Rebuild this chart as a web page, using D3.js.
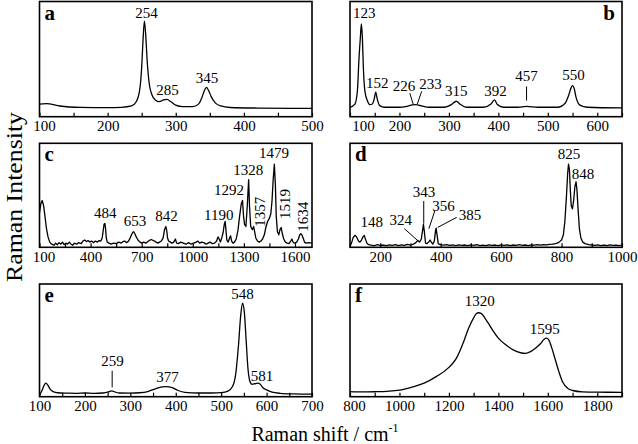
<!DOCTYPE html>
<html><head><meta charset="utf-8">
<script src="https://cdn.jsdelivr.net/npm/d3@7/dist/d3.min.js"></script>
<style>
body{margin:0;background:#fff}
svg{display:block}
text{font-family:"Liberation Serif","Times New Roman",Times,"DejaVu Serif",serif;fill:#000}
</style>
</head><body>
<svg id="chart" width="638" height="444"></svg>
<script>
// ---------- spectra (x = Raman shift, y = relative intensity 0..100 of panel height) ----------
const specA = [[100,11],[110,11.3],[130,9.3],[160,8.1],[200,7.8],[220,8.1],[235,9.3],[242,13],[247,23],[250,43],[252,67],[254,83],[256,70],[258,49],[261,29],[265,19],[270,14.5],[276,13],[282,14.5],[287,15],[293,13],[300,10],[310,8.7],[325,8.7],[333,10.7],[338,16],[342,22.6],[345,25.5],[348,23],[352,17.4],[358,12],[366,9.3],[380,8],[420,7.5],[500,7.2]];

const specB = [[100,8.2],[110,11],[115,22.7],[118,49],[121,69],[123,80.5],[125,69],[127,43],[130,22.7],[135,14],[140,10.5],[145,11],[149,15.5],[152,21.3],[155,15.5],[160,9.6],[170,8.2],[200,8.2],[215,9],[226,10.2],[233,10.5],[245,9.3],[260,8.2],[290,8.2],[305,10.5],[315,13.4],[322,11],[335,8.2],[370,8.2],[385,11],[392,14.6],[398,10.5],[410,8.2],[440,8.2],[457,8.9],[480,8.2],[520,8.2],[535,11.7],[542,18.4],[547,25],[550,27],[553,25],[557,17],[565,10],[580,8.2],[650,7.6]];

const specC = [[100,33],[108,42],[116,45],[124,40],[132,30],[140,19],[150,10],[160,5],[172,3],[185,2],[195,4],[205,2.5],[215,4.5],[225,3],[235,5],[245,2.5],[255,4],[265,3],[275,5],[285,3],[295,2],[305,4],[318,3],[330,4.5],[345,3.5],[355,6],[365,7],[375,5.5],[385,6.5],[395,5],[405,6],[418,4.5],[428,6],[440,5],[450,6.5],[460,6],[468,9],[474,16],[479,22],[484,23],[488,18],[492,9],[498,5],[508,4],[520,3],[535,4],[550,3.5],[565,5],[580,4],[590,5.5],[600,6],[610,4.5],[620,5.5],[630,8],[640,12],[648,14.5],[653,15],[660,13],[668,10],[678,7],[690,5],[700,4],[712,5],[725,4],[740,6],[755,7.5],[770,6.5],[785,5],[795,4],[805,5],[815,6],[826,9],[834,17],[842,20],[847,16],[852,9],[858,6],[868,5],[878,4],[888,5],[898,8],[905,4],[915,3.5],[930,5],[945,4],[960,3],[975,4.5],[990,3],[1005,4],[1020,5],[1030,6],[1040,4],[1052,5],[1065,4.5],[1078,3],[1090,4],[1102,5],[1115,3.5],[1128,4],[1140,6],[1148,10],[1155,8],[1162,5],[1170,9],[1178,14],[1185,22],[1190,25],[1194,18],[1200,7],[1208,5],[1216,9],[1222,11],[1228,6],[1236,4],[1245,5],[1255,8],[1265,16],[1275,30],[1285,42],[1292,45],[1298,30],[1304,22],[1312,20],[1320,40],[1328,65],[1333,40],[1340,20],[1350,17],[1357,20],[1362,16],[1370,9],[1380,6],[1390,5],[1400,6],[1410,8],[1420,12],[1430,20],[1440,25],[1450,28],[1458,32],[1465,44],[1472,65],[1479,80],[1485,60],[1490,30],[1497,15],[1505,12],[1512,17],[1519,19],[1526,13],[1534,8],[1544,5],[1555,4],[1565,3.5],[1575,6],[1582,8],[1590,4.5],[1600,4],[1610,5],[1620,8],[1628,12],[1634,13],[1640,12],[1648,9],[1656,5],[1665,4],[1680,4.5],[1700,4]];

const specD = [[100,1.5],[105,4],[110,9],[116,11.5],[122,10],[128,6],[133,5],[138,7],[143,10],[147,11.5],[151,8],[156,4],[162,2.5],[170,2],[180,1.5],[190,2.5],[200,1.8],[210,2.2],[220,1.5],[230,2.4],[240,1.8],[250,2.6],[260,1.7],[270,2.3],[280,1.9],[290,2.8],[300,2.2],[310,3],[318,4.5],[324,6.5],[330,5],[336,8],[340,16],[343,22],[346,15],[350,4],[355,3.5],[360,5],[365,7],[369,5],[374,3],[379,6],[383,16],[385,18.5],[388,12],[392,3.5],[398,2.5],[410,2],[420,2.6],[430,1.8],[440,2.3],[450,1.6],[460,2.4],[470,1.9],[480,2.2],[490,1.5],[500,2.3],[510,1.8],[520,2.5],[530,1.7],[540,2.1],[550,1.6],[560,2.4],[570,1.9],[580,2.2],[590,1.6],[600,2.3],[610,1.8],[620,2.4],[630,1.7],[640,2.2],[650,1.9],[660,2.5],[670,1.8],[680,2.2],[690,1.7],[700,2.4],[710,2],[720,2.6],[730,2.1],[740,2.5],[750,2.4],[760,2.9],[770,3],[780,3.6],[790,4.5],[800,7],[806,12],[811,25],[816,48],[820,70],[823,80],[826,75],[829,55],[832,40],[836,37],[840,45],[844,58],[848,63],[851,55],[855,35],[859,18],[864,9],[870,5],[878,3.5],[890,2.5],[900,2.2],[910,1.8],[920,2.3],[930,1.6],[940,2.2],[950,1.7],[960,2.4],[970,1.9],[980,2.1],[990,1.6],[1000,2.2]];

const specE = [[100,1.5],[105,5],[110,10],[114,12],[118,10.5],[123,7],[130,4.5],[140,3.5],[160,3.2],[180,3],[200,3.3],[220,3],[240,3.3],[250,4],[259,5.2],[266,4.2],[275,3.3],[300,3.2],[320,3.5],[340,4.8],[355,7],[370,8.7],[380,9],[392,8],[405,5.5],[420,3.8],[450,3.3],[480,3.3],[500,3.6],[515,5],[525,9],[532,20],[538,45],[543,72],[547,83],[551,75],[555,50],[559,25],[563,14],[568,11],[574,11.5],[580,12],[586,11],[592,8],[600,6],[612,4],[630,3],[660,2.5],[700,2.3]];

const specF = [[800,4.5],[850,4.2],[900,4.4],[950,4.8],[1000,5.8],[1050,8.5],[1100,12],[1150,18],[1200,26],[1230,34],[1260,49],[1280,61],[1300,70],[1310,73.5],[1320,74.5],[1330,74],[1345,70],[1360,65],[1380,58],[1400,52],[1430,46],[1460,41.5],[1490,39],[1510,38.5],[1530,40],[1550,43],[1570,47],[1585,51],[1595,52],[1605,50],[1615,44],[1630,33],[1645,22],[1660,13],[1680,7.5],[1700,5.5],[1740,4.3],[1800,4],[1900,3.9]];

// ---------- x domains and tick labels ----------
const domainA = [100,500], tickLabelsA = [100,200,300,400,500];
const domainB = [100,650], tickLabelsB = [100,200,300,400,500,600];
const domainC = [100,1700], tickLabelsC = [100,400,700,1000,1300,1600];
const domainD = [100,1000], tickLabelsD = [200,400,600,800,1000];
const domainE = [100,700], tickLabelsE = [100,200,300,400,500,600,700];
const domainF = [800,1900], tickLabelsF = [800,1000,1200,1400,1600,1800];

// ---------- peak annotations: [text, x, y, rotated] ----------
const peaksA = [["254",257,85.5],["285",288,18.5],["345",346,29.5]];
const peaksB = [["123",129,85.4],["152",155,25],["226",209,22.7],["233",263,24.2],["315",315,18.4],["392",394,18.4],["457",457,30.6],["550",552,32]];
const peaksC = [["484",486,28.5],["653",661,20.8],["842",846,25.3],["1190",1153,26.3],["1292",1213,50.3],["1328",1325,69.5],["1479",1477,85.6],["1357",1422,34.2,true],["1519",1569,41.6,true],["1634",1674,29.4,true]];
const peaksD = [["148",172,19.3],["324",268,21],["343",345,48.4],["356",409,34.8],["385",497,25.8],["825",825,84.5],["848",871,66]];
const peaksE = [["259",261,27.2],["377",382,13.3],["548",547,87],["581",590,13.9]];
const peaksF = [["1320",1325,80.5],["1595",1588,56]];

// leader lines: [x1,y1,x2,y2]
const leadersB = [[221,20.4,228,10.5],[245,22,236,11],[457,26.2,457,14]];
const leadersD = [[280,17.9,328,5.4],[344,44.5,344,22.6],[381,35.5,361,17.8],[453,28.8,390,19.1]];
const leadersE = [[260,23,260,8.3]];

// ---------- layout ----------
const cols = [[39.5,312],[350,622]];
const rows = [[1.5,116.7],[143.3,247.3],[284,396.7]];

const panels = [
  {letter:"a", col:0,row:0, spec:specA, domain:domainA, step:50, labels:tickLabelsA, peaks:peaksA, leaders:[], smooth:true, firstDx:4.5, right:false},
  {letter:"b", col:1,row:0, spec:specB, domain:domainB, step:50, labels:tickLabelsB, peaks:peaksB, leaders:leadersB, smooth:true, firstDx:13, right:true},
  {letter:"c", col:0,row:1, spec:specC, domain:domainC, step:150, labels:tickLabelsC, peaks:peaksC, leaders:[], smooth:false, firstDx:4, right:false},
  {letter:"d", col:1,row:1, spec:specD, domain:domainD, step:100, labels:tickLabelsD, peaks:peaksD, leaders:leadersD, smooth:false, firstDx:0, right:false},
  {letter:"e", col:0,row:2, spec:specE, domain:domainE, step:50, labels:tickLabelsE, peaks:peaksE, leaders:leadersE, smooth:true, firstDx:0, right:false},
  {letter:"f", col:1,row:2, spec:specF, domain:domainF, step:100, labels:tickLabelsF, peaks:peaksF, leaders:[], smooth:true, firstDx:4, right:false}
];

const svg = d3.select("#chart");
const serif = '"Liberation Serif","Times New Roman",Times,"DejaVu Serif",serif';

panels.forEach(p => {
  const [x0,x1] = cols[p.col], [y0,y1] = rows[p.row];
  const x = d3.scaleLinear().domain(p.domain).range([x0,x1]);
  const y = d3.scaleLinear().domain([0,100]).range([y1,y0]);
  const g = svg.append("g");

  // spectrum
  const line = d3.line().x(d=>x(d[0])).y(d=>y(d[1]))
     .curve(p.smooth ? d3.curveMonotoneX : d3.curveLinear);
  g.append("path").datum(p.spec).attr("d", line)
    .attr("fill","none").attr("stroke","#000").attr("stroke-width",1.3).attr("stroke-linejoin","round");

  // axis with inward ticks
  const ticks = d3.range(p.domain[0], p.domain[1]+0.001, p.step);
  const axis = d3.axisBottom(x).tickValues(ticks)
    .tickSizeInner(-4).tickSizeOuter(0).tickPadding(4)
    .tickFormat(v => p.labels.includes(v) ? String(v) : "");
  const ax = g.append("g").attr("transform",`translate(0,${y1})`).call(axis);
  ax.attr("font-family", serif);
  ax.select(".domain").remove();
  ax.selectAll(".tick line").attr("stroke","#000").attr("stroke-width",1.2);
  ax.selectAll(".tick text").attr("font-size",15).attr("fill","#000");
  if (p.firstDx) {
    ax.selectAll(".tick text").filter(v => v === p.labels[0] && v === p.domain[0]).attr("dx", p.firstDx);
  }

  // frame
  g.append("rect").attr("x",x0).attr("y",y0).attr("width",x1-x0).attr("height",y1-y0)
    .attr("fill","none").attr("stroke","#000").attr("stroke-width",1.6);

  // panel letter
  g.append("text").attr("x", p.right ? x1-7 : x0+5).attr("y", y0+18)
    .attr("text-anchor", p.right ? "end" : "start")
    .attr("font-size",21).attr("font-weight","bold").text(p.letter);

  // peak labels
  p.peaks.forEach(([t,px,py,rot]) => {
    const tx = g.append("text").attr("font-size",15).attr("text-anchor","middle").text(t);
    if (rot) tx.attr("transform",`translate(${x(px)},${y(py)}) rotate(-90)`);
    else tx.attr("x",x(px)).attr("y",y(py));
  });

  // leaders
  p.leaders.forEach(([ax1,ay1,ax2,ay2]) => {
    g.append("line").attr("x1",x(ax1)).attr("y1",y(ay1)).attr("x2",x(ax2)).attr("y2",y(ay2))
      .attr("stroke","#000").attr("stroke-width",1);
  });
});

// axis titles
svg.append("text").attr("transform","translate(22,197) rotate(-90)")
  .attr("text-anchor","middle").attr("font-size",24)
  .attr("textLength",170).attr("lengthAdjust","spacingAndGlyphs")
  .text("Raman Intensity");

const xt = svg.append("text").attr("x",325).attr("y",441).attr("text-anchor","middle").attr("font-size",20);
xt.append("tspan").text("Raman shift / cm");
xt.append("tspan").attr("font-size",12).attr("dy",-9).text("-1");
</script>
</body></html>
